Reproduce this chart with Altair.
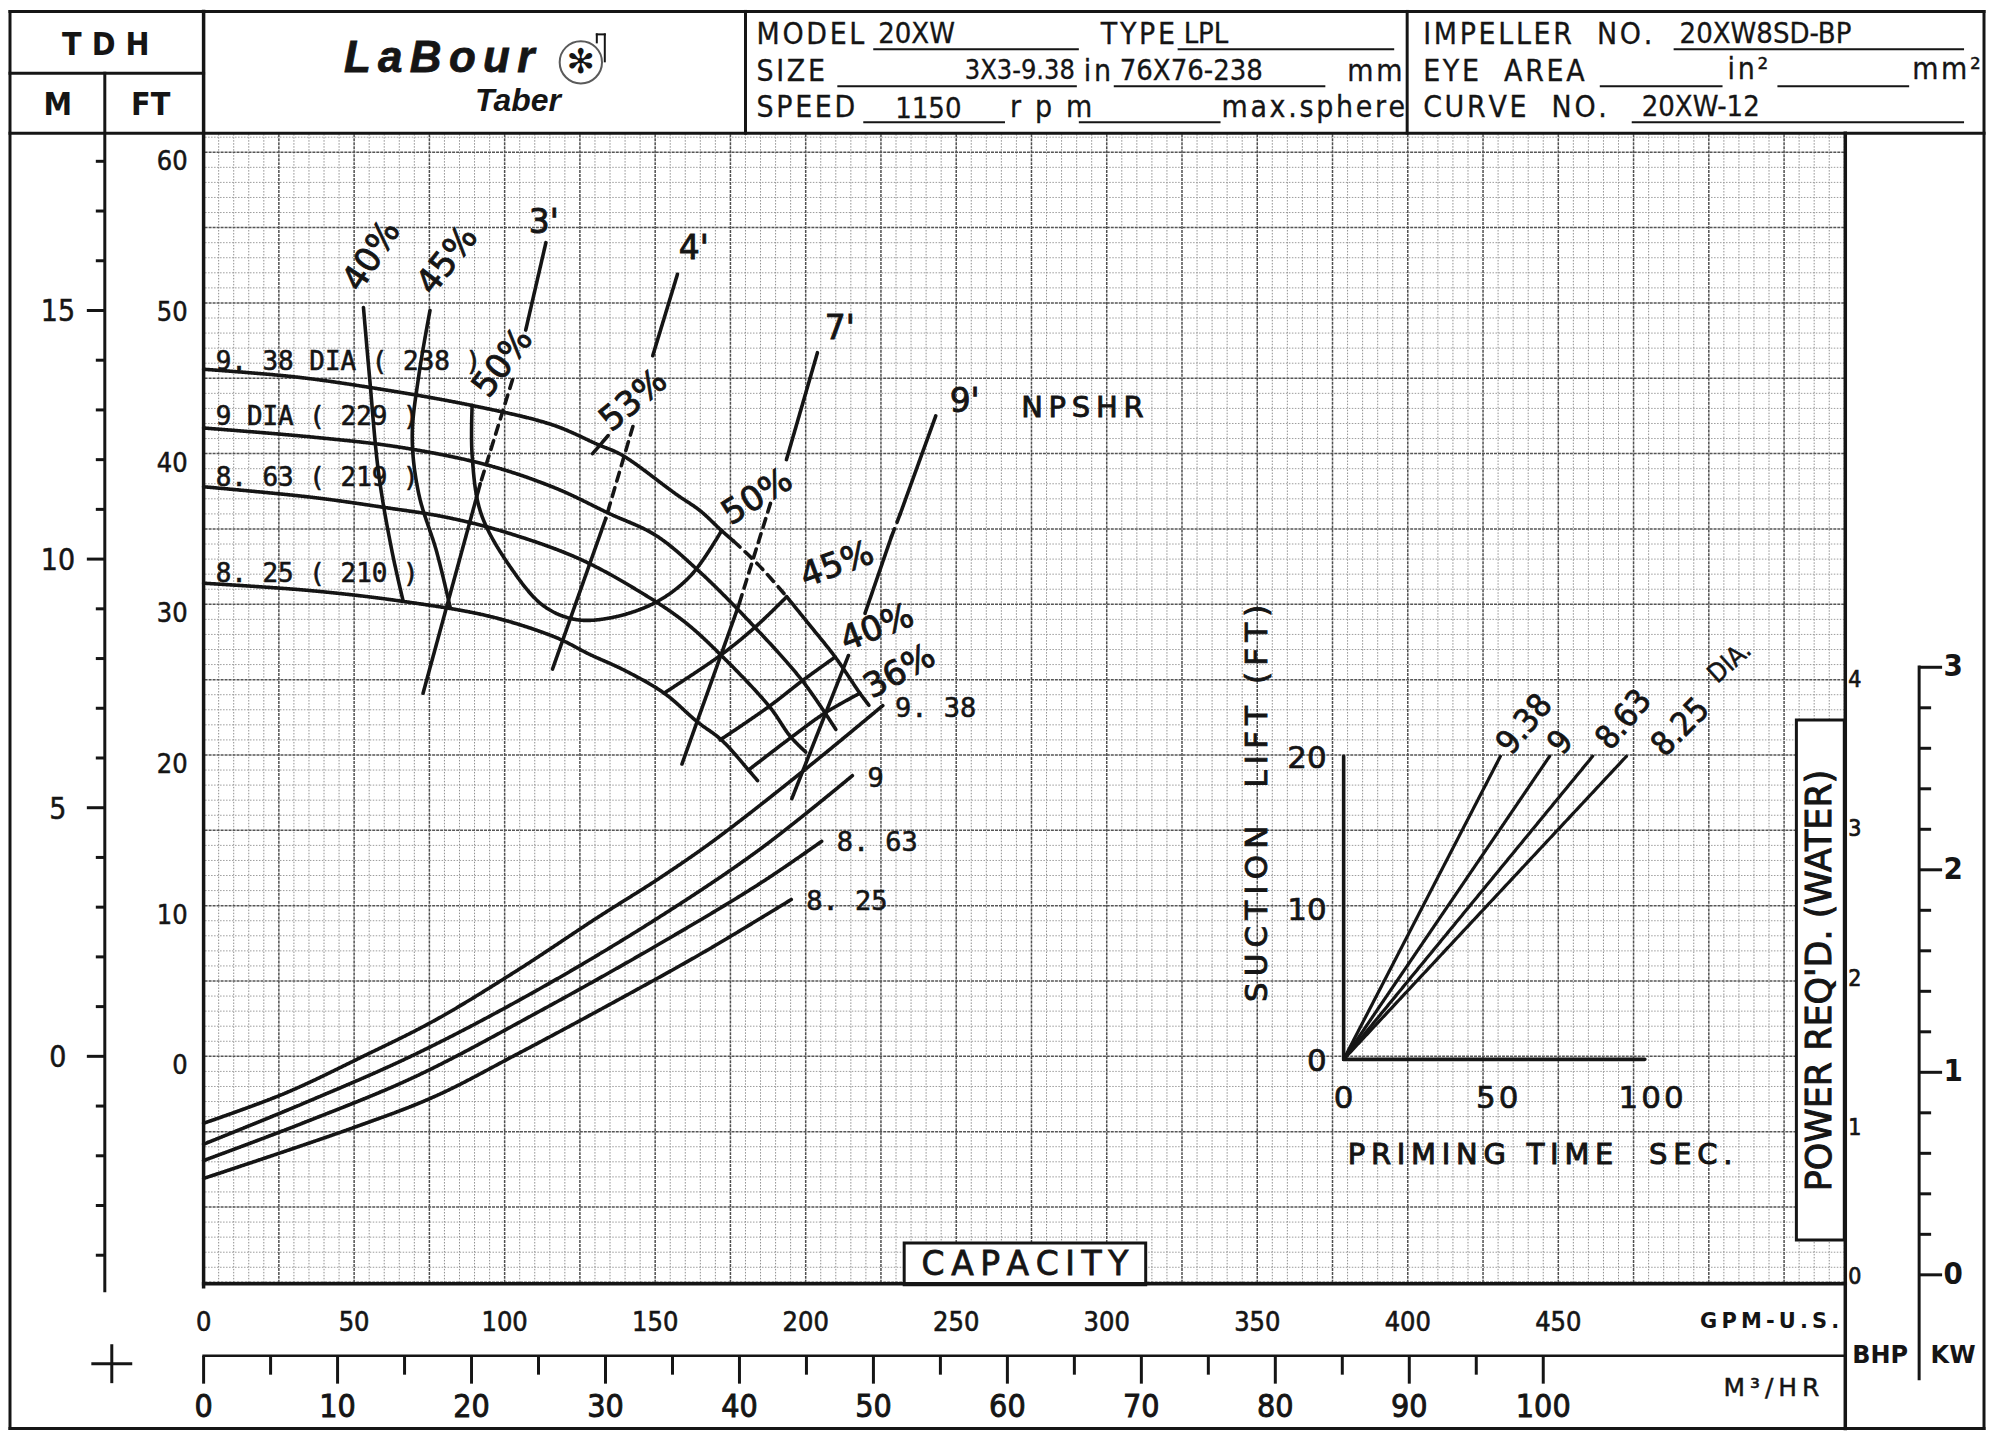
import altair as alt
import pandas as pd

# ====================================================================
# Values
# ====================================================================
# Head-capacity curves: capacity (US GPM) vs total dynamic head (FT)
H938_GPM = [0, 30, 55, 89, 116, 131, 139, 157, 165, 172, 176]
H938_FT = [45.6, 45.1, 44.4, 43.2, 41.9, 40.6, 39.9, 37.3, 36.2, 34.9, 34.2]
H938_DASH_GPM = [176, 184.4, 193.7]
H938_DASH_FT = [34.2, 32.6, 30.5]
H938_TAIL_GPM = [193.7, 201, 209.8, 218, 221]
H938_TAIL_FT = [30.5, 28.7, 26.5, 24.1, 23.3]
H9_GPM = [0, 36, 66, 95, 117, 135, 150, 164, 183, 199, 210]
H9_FT = [41.7, 41.1, 40.4, 39.2, 37.7, 36.0, 34.6, 32.3, 28.5, 24.9, 21.7]
H863_GPM = [0, 36, 61, 80, 100, 125, 146, 160, 172, 188, 195, 200]
H863_FT = [37.8, 37.1, 36.4, 35.8, 34.8, 33.0, 30.7, 28.8, 26.6, 23.2, 21.2, 20.2]
H825_GPM = [0, 36, 66, 95, 117, 128, 140, 153, 164, 172, 181, 184]
H825_FT = [31.4, 30.9, 30.2, 29.2, 27.8, 26.7, 25.6, 24.1, 22.2, 21.0, 19.0, 18.3]

# Iso-efficiency lines (GPM, FT)
E40L_GPM = [53.1, 55.2, 58.2, 62.6, 66.3]
E40L_FT = [49.7, 44.9, 38.6, 33.5, 30.2]
E45L_GPM = [75.2, 71.5, 69.3, 71.5, 77.4, 81.9]
E45L_FT = [49.5, 45.2, 41.1, 37.3, 33.5, 29.8]
E50_GPM = [89.2, 89.2, 92.2, 102.5, 112.9, 123.3, 135.1, 149.9, 161.8, 172.1]
E50_FT = [43.2, 39.9, 36.0, 32.3, 29.9, 29.0, 29.1, 30.1, 31.9, 34.9]
E45R_GPM = [193.7, 183.3, 171.6, 152.9]
E45R_FT = [30.5, 28.5, 26.6, 24.1]
E40R_GPM = [209.8, 198.7, 187.7, 171.6]
E40R_FT = [26.5, 24.9, 23.2, 21.0]
E36R_GPM = [218.0, 206.5, 195.4, 181.0]
E36R_FT = [24.1, 22.8, 21.2, 19.0]
E53_TICK_GPM = [129.2, 134.4]
E53_TICK_FT = [40.0, 41.2]

# NPSHR lines (GPM, FT), drawn in pieces
N3_GPM = [113.7, 107.0, 102.6, 91.9, 72.9]
N3_FT = [54.0, 48.2, 44.9, 38.0, 24.1]
N4_GPM = [157.4, 149.2, 142.6, 133.6, 115.9]
N4_FT = [51.9, 46.5, 41.8, 35.7, 25.7]
N7_GPM = [203.9, 193.6, 188.3, 177.7, 158.9]
N7_FT = [46.7, 39.6, 36.7, 29.9, 19.4]
N9_GPM = [243.2, 231.4, 228.5, 219.7, 214.2, 195.4]
N9_FT = [42.5, 36.0, 34.5, 29.4, 26.6, 17.1]

# Power required curves (GPM, BHP)
P938_GPM = [0, 26.9, 53.1, 76.8, 103.8, 130.9, 151.2, 169.8, 200.3, 225.6]
P938_BHP = [1.03, 1.23, 1.48, 1.72, 2.05, 2.41, 2.67, 2.93, 3.41, 3.83]
P9_GPM = [0, 32.8, 70.0, 110.6, 151.2, 185.0, 215.5]
P9_BHP = [0.89, 1.16, 1.49, 1.92, 2.41, 2.87, 3.36]
P863_GPM = [0, 32.8, 70.0, 110.6, 151.2, 185.0, 205.3]
P863_BHP = [0.78, 1.03, 1.34, 1.77, 2.23, 2.64, 2.92]
P825_GPM = [0, 49.7, 76.8, 103.8, 134.3, 166.4, 195.2]
P825_BHP = [0.66, 1.00, 1.21, 1.49, 1.82, 2.18, 2.53]

# Inset: priming time (sec) to reach a 20 ft suction lift
PRIME_DIA = ["9.38", "9", "8.63", "8.25"]
PRIME_SEC = [51, 67, 81, 92]
PRIME_LIFT = 20
INSET_SEC_END = 98

# Labels
DIA_TEXT = ["9. 38 DIA ( 238 )", "9 DIA  ( 229 )", "8. 63 ( 219 )", "8. 25 ( 210 )"]
DIA_GPM = [4.0, 4.0, 4.0, 4.0]
DIA_FT = [46.1, 42.4, 38.4, 32.0]
PWR_TEXT = ["9. 38", "9", "8. 63", "8. 25"]
PWR_GPM = [229.7, 220.5, 210.3, 200.2]
PWR_BHP = [3.81, 3.34, 2.91, 2.51]
EFF_TEXT = ["40%", "45%", "50%", "53%", "50%", "45%", "40%", "36%"]
EFF_GPM = [56.0, 81.1, 99.5, 142.9, 184.0, 210.5, 223.8, 231.3]
EFF_FT = [53.1, 52.8, 46.0, 43.5, 37.1, 32.6, 28.4, 25.5]
NPSH_TEXT = ["3'", "4'", "7'", "9'", "NPSHR"]
NPSH_GPM = [113.0, 162.8, 211.3, 252.8, 291.9]
NPSH_FT = [55.3, 53.6, 48.3, 43.4, 43.0]
INSET_TEXT = ["9.38", "9", "8.63", "8.25", "DIA."]
INSET_T = [58.9, 70.7, 91.2, 109.7, 125.6]
INSET_S = [22.1, 20.9, 22.4, 21.9, 26.2]

FT_TICKS = [0, 10, 20, 30, 40, 50, 60]
M_TICKS = [0, 5, 10, 15]
GPM_TICKS = [0, 50, 100, 150, 200, 250, 300, 350, 400, 450]
M3H_TICKS = [0, 10, 20, 30, 40, 50, 60, 70, 80, 90, 100]
BHP_TICKS = [0, 1, 2, 3, 4]
KW_TICKS = [0, 1, 2, 3]
LIFT_TICKS = [0, 10, 20]
PRIME_TICKS = [0, 50, 100]

# ====================================================================
# Scale relations printed on the sheet, and layout
# ====================================================================
OX, OY = 204, 133          # page position of the grid's top-left corner
W, H = 1644, 1152
X_DOM = [0, 545]
Y_DOM = [-15.1, 61.2]
M_TO_FT = 3.30
BHP_FT, BHP0_FT = 9.90, -14.64
KW_FT, KW0_FT = 13.44, -14.50
M3H_GPM = 4.45
INSET_GPM0, INSET_GPM_PER_S = 378.7, 1.021
INSET_FT0, INSET_FT_PER_FT = -0.2, 1.0056
GRID_X_STEP, GRID_X_MAJOR = 5, 25
GRID_Y_STEP, GRID_Y_MAJOR = 1, 5

INK = "#151515"
CF = "DejaVu Sans Condensed, DejaVu Sans"
SF = "DejaVu Sans"
MF = "DejaVu Sans Mono"
LW = 3.6
HAIR = "\u200a"


def sp(s, k=1):
    """letter-spaced text using hair spaces"""
    return (HAIR * k).join(s)


XS = alt.Scale(domain=X_DOM, nice=False, zero=False)
YS = alt.Scale(domain=Y_DOM, nice=False, zero=False)


def ig(t):
    return INSET_GPM0 + t * INSET_GPM_PER_S


def ifl(s):
    return INSET_FT0 + s * INSET_FT_PER_FT


def bft(b):
    return BHP0_FT + b * BHP_FT


def kft(k):
    return KW0_FT + k * KW_FT


rows = []


def add(name, xs, ys, style="solid", w=LW):
    for i, (x, y) in enumerate(zip(xs, ys)):
        rows.append(dict(grp=name, i=i, gpm=x, ft=y, style=style, w=w))


add("h938", H938_GPM, H938_FT)
add("h938d", H938_DASH_GPM, H938_DASH_FT, "dash")
add("h938t", H938_TAIL_GPM, H938_TAIL_FT)
add("h9", H9_GPM, H9_FT)
add("h863", H863_GPM, H863_FT)
add("h825", H825_GPM, H825_FT)
add("e40l", E40L_GPM, E40L_FT)
add("e45l", E45L_GPM, E45L_FT)
add("e50", E50_GPM, E50_FT)
add("e45r", E45R_GPM, E45R_FT)
add("e40r", E40R_GPM, E40R_FT)
add("e36r", E36R_GPM, E36R_FT)
add("e53t", E53_TICK_GPM, E53_TICK_FT)
SEG_A = [(0, 1, "solid"), (2, 3, "dash"), (3, 4, "solid")]
SEG_9 = [(0, 1, "solid"), (1, 2, "dash"), (2, 3, "solid"), (4, 5, "solid")]
for nm, xs, ys, segs in [("n3", N3_GPM, N3_FT, SEG_A), ("n4", N4_GPM, N4_FT, SEG_A),
                         ("n7", N7_GPM, N7_FT, SEG_A), ("n9", N9_GPM, N9_FT, SEG_9)]:
    for k, (a, b, st) in enumerate(segs):
        add(f"{nm}_{k}", xs[a:b + 1], ys[a:b + 1], st)
for nm, xs, bs in [("p938", P938_GPM, P938_BHP), ("p9", P9_GPM, P9_BHP),
                   ("p863", P863_GPM, P863_BHP), ("p825", P825_GPM, P825_BHP)]:
    add(nm, xs, [bft(b) for b in bs])
# inset
add("iax_v", [ig(0), ig(0)], [ifl(0), ifl(PRIME_LIFT)])
add("iax_h", [ig(0), ig(INSET_SEC_END)], [ifl(0), ifl(0)])
for d, t in zip(PRIME_DIA, PRIME_SEC):
    add("pr" + d, [ig(0), ig(t)], [ifl(0), ifl(PRIME_LIFT)], w=3.2)
lines_df = pd.DataFrame(rows)

GX = alt.X("gpm:Q", scale=XS, axis=None)
FY = alt.Y("ft:Q", scale=YS, axis=None)
PX = alt.X("px:Q", scale=None, axis=None)
PY = alt.Y("py:Q", scale=None, axis=None)

# ---------- graph-paper grid ----------
gx = list(range(X_DOM[0], int(X_DOM[1]) + 1, GRID_X_STEP))
gy = list(range(-15, 62, GRID_Y_STEP))
gx_minor = pd.DataFrame(dict(gpm=[v for v in gx if v % GRID_X_MAJOR]))
gx_major = pd.DataFrame(dict(gpm=[v for v in gx if v % GRID_X_MAJOR == 0]))
gy_minor = pd.DataFrame(dict(ft=[v for v in gy if v % GRID_Y_MAJOR]))
gy_major = pd.DataFrame(dict(ft=[v for v in gy if v % GRID_Y_MAJOR == 0]))
grid_layers = [
    alt.Chart(gx_minor).mark_rule(color="#8f8f8f", strokeWidth=1, strokeDash=[1.5, 1.5]).encode(x=GX),
    alt.Chart(gy_minor).mark_rule(color="#9c9c9c", strokeWidth=1, strokeDash=[1.5, 1.5]).encode(y=FY),
    alt.Chart(gx_major).mark_rule(color="#505050", strokeWidth=1.5, strokeDash=[3, 1]).encode(x=GX),
    alt.Chart(gy_major).mark_rule(color="#555555", strokeWidth=1.5, strokeDash=[3, 1]).encode(y=FY),
]

lines = alt.Chart(lines_df).mark_line(
    interpolate="catmull-rom", color=INK, strokeCap="round", strokeJoin="round"
).encode(
    x=GX,
    y=FY,
    detail="grp:N",
    order="i:Q",
    strokeDash=alt.StrokeDash("style:N", scale=alt.Scale(domain=["solid", "dash"], range=[[1, 0], [9, 7]]),
                              legend=None),
    strokeWidth=alt.StrokeWidth("w:Q", scale=None),
)


def tlayer(df, x, y, angle=False, **mk):
    base = dict(color=INK, baseline="middle")
    base.update(mk)
    enc = {"x": x, "y": y, "text": alt.Text("t:N")}
    if angle:
        enc["angle"] = alt.Angle("ang:Q", scale=None)
    return alt.Chart(df).mark_text(**base).encode(**enc)


def page_df(items):
    return pd.DataFrame([dict(t=t, px=x - OX, py=y - OY) for t, x, y in items])


# ---------- axis ticks (M, KW, M3/HR) ----------
m_tick_df = pd.DataFrame([dict(ft=m * M_TO_FT, px1=(87 if m % 5 == 0 else 96) - OX, px2=105 - OX)
                          for m in range(-4, 19)])
m_ticks = alt.Chart(m_tick_df).mark_rule(color=INK, strokeWidth=3).encode(
    x=alt.X("px1:Q", scale=None, axis=None), x2="px2:Q", y=FY)
kw_vals = [round(0.2 * k, 1) for k in range(0, 16)]
kw_tick_df = pd.DataFrame([dict(ft=kft(k), px1=1923 - OX,
                                px2=(1946 if abs(k - round(k)) < 1e-6 else 1935) - OX) for k in kw_vals])
kw_ticks = alt.Chart(kw_tick_df).mark_rule(color=INK, strokeWidth=3).encode(
    x=alt.X("px1:Q", scale=None, axis=None), x2="px2:Q", y=FY)
m3_tick_df = pd.DataFrame([dict(gpm=v * M3H_GPM, py1=1357 - OY, py2=(1385 if v % 10 == 0 else 1376) - OY)
                           for v in range(0, 101, 5)])
m3_ticks = alt.Chart(m3_tick_df).mark_rule(color=INK, strokeWidth=3).encode(
    x=GX, y=alt.Y("py1:Q", scale=None, axis=None), y2="py2:Q")

# ---------- frame ----------
FRAME = [
    (10, 10, 1988, 10, 3), (10, 1430, 1988, 1430, 3), (10, 10, 10, 1430, 3), (1988, 10, 1988, 1430, 3),
    (10, 132, 1988, 132, 3), (204, 10, 204, 1288, 3.5), (747, 10, 747, 132, 3), (1410, 10, 1410, 132, 3),
    (10, 72, 204, 72, 3), (105, 72, 105, 1292, 3), (204, 1285, 1849, 1285, 3.5), (1849, 132, 1849, 1430, 3.5),
    (204, 1357, 1849, 1357, 2.5), (1923, 667, 1923, 1380, 3),
    (93, 1365, 131, 1365, 3), (112, 1347, 112, 1383, 3),
    # header underlines
    (876, 48, 1080, 48, 2), (1181, 48, 1396, 48, 2), (1678, 48, 1967, 48, 2),
    (840, 85, 1078, 85, 2), (1117, 85, 1327, 85, 2), (1604, 85, 1725, 85, 2), (1782, 85, 1912, 85, 2),
    (866, 121, 1006, 121, 2), (1082, 121, 1222, 121, 2), (1636, 121, 1967, 121, 2),
    # logo volute outlet
    (598, 41, 598, 33, 2), (598, 33, 606, 33, 2), (606, 33, 606, 60, 2),
]
frame_df = pd.DataFrame([dict(x1=a - OX, y1=b - OY, x2=c - OX, y2=d - OY, w=w) for a, b, c, d, w in FRAME])
frame = alt.Chart(frame_df).mark_rule(color=INK, strokeCap="square").encode(
    x=alt.X("x1:Q", scale=None, axis=None), x2="x2:Q",
    y=alt.Y("y1:Q", scale=None, axis=None), y2="y2:Q",
    strokeWidth=alt.StrokeWidth("w:Q", scale=None))

BOXES = [(1800, 720, 1848, 1241), (906, 1244, 1148, 1286)]
box_df = pd.DataFrame([dict(x1=a - OX, y1=b - OY, x2=c - OX, y2=d - OY) for a, b, c, d in BOXES])
boxes = alt.Chart(box_df).mark_rect(fill="white", stroke=INK, strokeWidth=3).encode(
    x=alt.X("x1:Q", scale=None, axis=None), x2="x2:Q",
    y=alt.Y("y1:Q", scale=None, axis=None), y2="y2:Q")

logo_df = pd.DataFrame([dict(px=582 - OX, py=61 - OY)])
logo_circle = alt.Chart(logo_df).mark_point(shape="circle", size=1800, filled=False, color=INK,
                                            strokeWidth=2).encode(x=PX, y=PY)

# ---------- texts ----------
layers = grid_layers + [lines, m_ticks, kw_ticks, m3_ticks, boxes, frame, logo_circle]

# header lettering
HDR = [("MODEL", 758, 34), ("TYPE", 1103, 34), ("IMPELLER  NO.", 1426, 34),
       ("SIZE", 758, 71), ("in", 1086, 71), ("EYE  AREA", 1426, 71),
       ("in²", 1731, 69), ("mm²", 1916, 69),
       ("SPEED", 758, 107), ("r p m", 1012, 107), ("max.sphere", 1224, 107), ("CURVE  NO.", 1426, 107)]
HDR = [(sp(t, 1), x, y) for t, x, y in HDR]
layers.append(tlayer(page_df(HDR), PX, PY, align="left", font=CF, fontSize=30, stroke=INK, strokeWidth=0.3))
layers.append(tlayer(page_df([(sp("mm", 1), 1350, 71)]), PX, PY, align="left", font=CF, fontSize=30,
                     stroke=INK, strokeWidth=0.3))
HDR_VAL = [("20XW", 880, 33), ("LPL", 1186, 33), ("20XW8SD-BP", 1683, 33),
           ("76X76-238", 1122, 70), ("1150", 897, 108), ("20XW-12", 1645, 106)]
layers.append(tlayer(page_df(HDR_VAL), PX, PY, align="left", font=CF, fontSize=29, stroke=INK, strokeWidth=0.3))
layers.append(tlayer(page_df([("3X3-9.38", 1077, 70)]), PX, PY, align="right", font=CF, fontSize=27,
                     stroke=INK, strokeWidth=0.3))
layers.append(tlayer(page_df([("T D H", 106, 44), ("M", 58, 104), ("FT", 151, 104)]), PX, PY,
                     align="center", font=CF, fontSize=32, fontWeight="bold"))
layers.append(tlayer(page_df([(sp("LaBour", 2), 440, 58)]), PX, PY, align="center", font="Liberation Sans",
                     fontSize=44, fontWeight="bold", fontStyle="italic", stroke=INK, strokeWidth=0.8))
layers.append(tlayer(page_df([("Taber", 519, 100)]), PX, PY, align="center",
                     font="Liberation Sans Narrow, Liberation Sans",
                     fontSize=32, fontWeight="bold", fontStyle="italic"))
layers.append(tlayer(page_df([("✻", 582, 62)]), PX, PY, align="center", font=SF, fontSize=34))

# left axes
ft_df = pd.DataFrame(dict(t=[str(v) for v in FT_TICKS], ft=FT_TICKS, px=-16))
layers.append(tlayer(ft_df, PX, FY, align="right", dy=10, font=CF, fontSize=27, stroke=INK, strokeWidth=0.5))
m_df = pd.DataFrame(dict(t=[str(v) for v in M_TICKS], ft=[v * M_TO_FT for v in M_TICKS], px=58 - OX))
layers.append(tlayer(m_df, PX, FY, align="center", dy=2, font=CF, fontSize=30, stroke=INK, strokeWidth=0.5))

# bottom axes
gpm_df = pd.DataFrame(dict(t=[str(v) for v in GPM_TICKS], gpm=GPM_TICKS, py=1324 - OY))
layers.append(tlayer(gpm_df, GX, PY, align="center", font=CF, fontSize=27, stroke=INK, strokeWidth=0.6))
m3_df = pd.DataFrame(dict(t=[str(v) for v in M3H_TICKS], gpm=[v * M3H_GPM for v in M3H_TICKS], py=1408 - OY))
layers.append(tlayer(m3_df, GX, PY, align="center", font=CF, fontSize=32, stroke=INK, strokeWidth=0.9))
layers.append(tlayer(page_df([(sp("GPM-U.S.", 2), 1843, 1323)]), PX, PY, align="right", font=SF, fontSize=21,
                     fontWeight="bold"))
layers.append(tlayer(page_df([(sp("M³/HR", 2), 1775, 1389)]), PX, PY, align="center", font=SF, fontSize=25,
                     stroke=INK, strokeWidth=0.5))
layers.append(tlayer(page_df([("BHP", 1884, 1357), ("KW", 1957, 1357)]), PX, PY, align="center", font=SF,
                     fontSize=24, fontWeight="bold"))
layers.append(tlayer(page_df([(sp("CAPACITY", 2), 1027, 1266)]), PX, PY, align="center", font=SF, fontSize=33,
                     stroke=INK, strokeWidth=0.8))

# right axes
bhp_df = pd.DataFrame(dict(t=[str(v) for v in BHP_TICKS], ft=[bft(v) for v in BHP_TICKS], px=1852 - OX))
layers.append(tlayer(bhp_df, PX, FY, align="left", font=CF, fontSize=23, stroke=INK, strokeWidth=0.7))
kw_df = pd.DataFrame(dict(t=[str(v) for v in KW_TICKS], ft=[kft(v) for v in KW_TICKS], px=1957 - OX))
layers.append(tlayer(kw_df, PX, FY, align="center", font=CF, fontSize=31, fontWeight="bold"))
layers.append(tlayer(pd.DataFrame([dict(t="POWER REQ'D. (WATER)", px=1824 - OX, py=981 - OY, ang=270)]),
                     PX, PY, angle=True, align="center", font=SF, fontSize=35,
                     stroke=INK, strokeWidth=1.0))

# curve labels
dia_df = pd.DataFrame(dict(t=DIA_TEXT, gpm=DIA_GPM, ft=DIA_FT))
layers.append(tlayer(dia_df, GX, FY, align="left", font=MF, fontSize=26, stroke=INK, strokeWidth=0.6))
pwr_df = pd.DataFrame(dict(t=PWR_TEXT, gpm=PWR_GPM, ft=[bft(b) for b in PWR_BHP]))
layers.append(tlayer(pwr_df, GX, FY, align="left", font=MF, fontSize=27, stroke=INK, strokeWidth=0.6))
EFF_ANG = [303, 308, 307, 320, 328, 340, 339, 331]
eff_df = pd.DataFrame(dict(t=EFF_TEXT, gpm=EFF_GPM, ft=EFF_FT, ang=EFF_ANG))
layers.append(tlayer(eff_df, GX, FY, angle=True, align="center", font=SF, fontSize=34,
                     stroke=INK, strokeWidth=0.9))
npsh_df = pd.DataFrame(dict(t=NPSH_TEXT[:4], gpm=NPSH_GPM[:4], ft=NPSH_FT[:4]))
layers.append(tlayer(npsh_df, GX, FY, align="center", font=SF, fontSize=33, stroke=INK, strokeWidth=0.9))
npshr_df = pd.DataFrame(dict(t=[sp(t, 2) for t in NPSH_TEXT[4:]], gpm=NPSH_GPM[4:], ft=NPSH_FT[4:]))
layers.append(tlayer(npshr_df, GX, FY, align="center", font=SF, fontSize=29,
                     stroke=INK, strokeWidth=0.9))

# inset labels
INSET_ANG = [310, 310, 310, 315, 318]
ins_df = pd.DataFrame(dict(t=INSET_TEXT, gpm=[ig(t) for t in INSET_T], ft=[ifl(s) for s in INSET_S],
                           ang=INSET_ANG))
layers.append(tlayer(ins_df.iloc[:4], GX, FY, angle=True, align="center", font=CF, fontSize=33,
                     stroke=INK, strokeWidth=0.8))
layers.append(tlayer(ins_df.iloc[4:], GX, FY, angle=True, align="center", font=CF, fontSize=26,
                     stroke=INK, strokeWidth=0.5))
lift_df = pd.DataFrame(dict(t=[str(v) for v in LIFT_TICKS], gpm=ig(0), ft=[ifl(v) for v in LIFT_TICKS]))
layers.append(tlayer(lift_df, GX, FY, align="right", dx=-17, dy=3, font=SF, fontSize=31,
                     stroke=INK, strokeWidth=0.7))
prime_df = pd.DataFrame(dict(t=[sp(str(v), 1) for v in PRIME_TICKS], gpm=[ig(v) for v in PRIME_TICKS],
                             ft=ifl(-2.6)))
layers.append(tlayer(prime_df, GX, FY, align="center", font=SF, fontSize=31,
                     stroke=INK, strokeWidth=0.7))
layers.append(tlayer(pd.DataFrame([dict(t=sp("SUCTION  LIFT (FT)", 2), gpm=ig(-27.7), ft=ifl(16.9), ang=270)]),
                     GX, FY, angle=True, align="center", font=SF, fontSize=31,
                     stroke=INK, strokeWidth=0.9))
layers.append(tlayer(pd.DataFrame([dict(t=sp("PRIMING TIME  SEC.", 2), gpm=ig(63.9), ft=ifl(-6.3))]),
                     GX, FY, align="center", font=SF, fontSize=29,
                     stroke=INK, strokeWidth=1.0))

chart = alt.layer(*layers).properties(
    width=W, height=H,
    padding={"left": OX - 8, "top": OY - 8, "right": 144, "bottom": 147},
    autosize=alt.AutoSizeParams(type="none"),
    background="white",
).configure_view(stroke=None)

chart.save("out.html", embed_options={"renderer": "svg", "actions": False})
